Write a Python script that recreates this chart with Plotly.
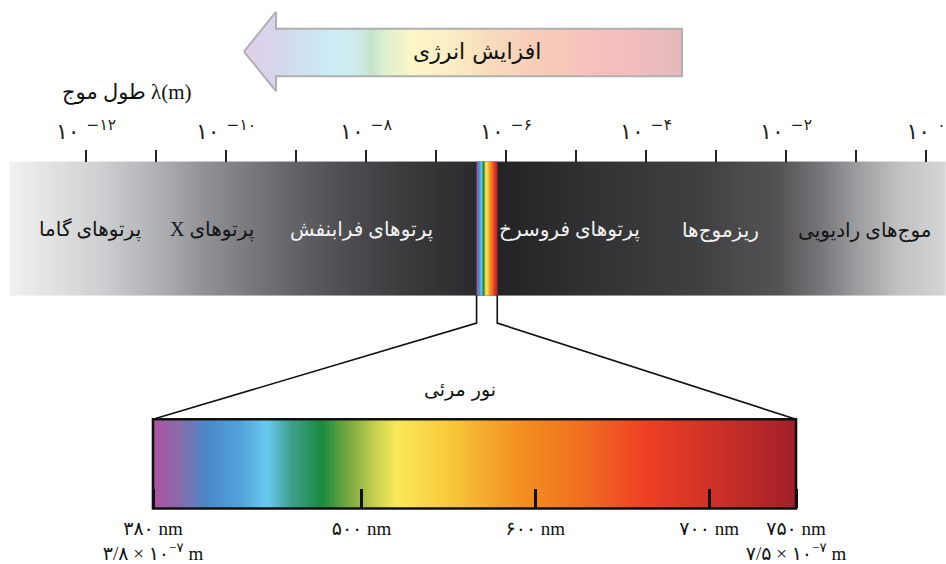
import numpy as np
import plotly.graph_objects as go

# ---------------- data ----------------
FA = str.maketrans("0123456789-", "۰۱۲۳۴۵۶۷۸۹−")

labelled_exponents = [-12, -10, -8, -6, -4, -2, 0]     # labelled decades of λ (m)
minor_exponents = [-11, -9, -7, -5, -3, -1]            # unlabelled decade ticks

band_names = ["پرتوهای گاما", "\u202bپرتوهای X\u202c", "پرتوهای فرابنفش",
              "پرتوهای فروسرخ", "ریزموج‌ها", "موج‌های رادیویی"]
band_center_log = [-11.94, -10.2, -8.07, -5.09, -2.94, -0.87]   # log10(λ / m)
band_text_dark = [True, True, False, False, False, True]

visible_range_nm = [380, 750]
visible_ticks_nm = [380, 500, 600, 700, 750]

title_energy = "افزایش انرژی"
axis_title = "طول موج λ(m)"
visible_title = "نور مرئی"

# ---------------- styles ----------------
W, H = 946, 564
PX_PER_DECADE = 70.0
LOG_MIN = -12 - 86 / PX_PER_DECADE
LOG_MAX = LOG_MIN + W / PX_PER_DECADE
PX_PER_NM = (796 - 153) / (visible_range_nm[1] - visible_range_nm[0])
NM_MIN = visible_range_nm[0] - 153 / PX_PER_NM
NM_MAX = NM_MIN + W / PX_PER_NM

BAND_TOP, BAND_BOT = 163, 298
BAR_TOP, BAR_BOT = 423, 513
CONNECT_Y = 326

band_gradient = [(-13.09, "#f1f1f2"), (-11.8, "#cfd0d2"), (-10.8, "#a8a9ac"),
                 (-10.37, "#949498"), (-9.66, "#7a7a7e"), (-8.94, "#606064"),
                 (-8.23, "#4c4c50"), (-7.51, "#3c3c3f"), (-6.66, "#2f2e31"),
                 (-6.09, "#232225"), (-4.66, "#333335"), (-3.23, "#404042"),
                 (-2.09, "#545456"), (-1.51, "#76767a"), (-0.94, "#a0a0a3"),
                 (-0.37, "#c2c2c4"), (LOG_MAX, "#d6d6d8")]
spectrum_gradient = [(380, "#ad539f"), (395, "#8a6aaa"), (411, "#4a88c8"),
                     (430, "#52a2da"), (446, "#68c9f0"), (459, "#3fa08e"),
                     (477, "#1a8a42"), (493, "#7aaa40"), (508, "#c8d050"),
                     (520, "#f8e85a"), (545, "#f8d040"), (568, "#f5b030"),
                     (591, "#f39020"), (626, "#f07020"), (663, "#ee4025"),
                     (706, "#cc3028"), (750, "#a11f2a")]
arrow_gradient = [(0.0, "#e2d0e8"), (0.06, "#d8d4ec"), (0.13, "#cfe0f2"),
                  (0.2, "#cdeaf6"), (0.25, "#d0ecf0"), (0.29, "#c4e4cc"),
                  (0.32, "#dcefd0"), (0.38, "#fbf6c8"), (0.47, "#fbeec4"),
                  (0.56, "#f8dcbc"), (0.67, "#f7ccb8"), (0.79, "#f5c2bc"),
                  (0.9, "#efbdbd"), (1.0, "#e6b8bc")]

FA_FONT = "DejaVu Sans"
MIX_FONT = "Liberation Serif, DejaVu Sans"


def to_fa(v):
    return str(v).translate(FA)


def norm_scale(stops):
    lo, hi = stops[0][0], stops[-1][0]
    return [[(p - lo) / (hi - lo), c] for p, c in stops]


def log_to_nm_axis(v):
    frac = (v - LOG_MIN) / (LOG_MAX - LOG_MIN)
    return NM_MIN + frac * (NM_MAX - NM_MIN)


# tick labels
top_ticktext = ["۱۰ <sup>" + to_fa(e) + "</sup>" for e in labelled_exponents]
vis_ticktext = []
for v in visible_ticks_nm:
    t = to_fa(v) + " nm"
    if v in visible_range_nm:
        mant = f"{v / 100:.1f}".replace(".", "/")
        t += "<br>" + to_fa(mant) + " × ۱۰<sup>" + to_fa(-7) + "</sup> m"
    vis_ticktext.append(t)

fig = go.Figure()

# --- grey band of the whole spectrum (log axis)
band_x = np.linspace(band_gradient[0][0], LOG_MAX, 401)
band_c = (band_x[:-1] + band_x[1:]) / 2
fig.add_trace(go.Heatmap(x=band_x, y=[BAND_TOP, BAND_BOT], z=[band_c],
                         colorscale=norm_scale(band_gradient),
                         zmin=band_gradient[0][0], zmax=band_gradient[-1][0],
                         showscale=False, hoverinfo="skip", xaxis="x", yaxis="y"))

# --- narrow visible strip inside the band
lv = np.log10(np.array(visible_range_nm) * 1e-9)
strip_x = np.linspace(lv[0], lv[1], 60)
strip_c = 10 ** ((strip_x[:-1] + strip_x[1:]) / 2) * 1e9
fig.add_trace(go.Heatmap(x=strip_x, y=[BAND_TOP, BAND_BOT], z=[strip_c],
                         colorscale=norm_scale(spectrum_gradient),
                         zmin=visible_range_nm[0], zmax=visible_range_nm[1],
                         showscale=False, hoverinfo="skip", xaxis="x", yaxis="y"))

# --- visible spectrum bar (nm axis)
bar_x = np.linspace(visible_range_nm[0], visible_range_nm[1], 371)
bar_c = (bar_x[:-1] + bar_x[1:]) / 2
fig.add_trace(go.Heatmap(x=bar_x, y=[BAR_TOP, BAR_BOT], z=[bar_c],
                         colorscale=norm_scale(spectrum_gradient),
                         zmin=visible_range_nm[0], zmax=visible_range_nm[1],
                         showscale=False, hoverinfo="skip", xaxis="x2", yaxis="y"))

# --- connector lines from strip to bar
for lvv, nm in zip(lv, visible_range_nm):
    sx = log_to_nm_axis(lvv)
    fig.add_trace(go.Scatter(x=[sx, sx, nm], y=[BAND_BOT, CONNECT_Y, BAR_TOP],
                             mode="lines", line=dict(color="#111111", width=1.6),
                             hoverinfo="skip", showlegend=False, xaxis="x2", yaxis="y"))

# --- energy arrow (decorative)
ax = [244, 276, 276, 682, 682, 276, 276, 244]
ay = [52, 12, 29, 29, 77, 77, 92, 52]
fig.add_trace(go.Scatter(x=ax, y=ay, mode="lines", fill="toself",
                         fillgradient=dict(type="horizontal",
                                           colorscale=[[p, c] for p, c in arrow_gradient]),
                         line=dict(color="#b0b0b0", width=2),
                         hoverinfo="skip", showlegend=False, xaxis="x3", yaxis="y"))

# --- bar border
fig.add_shape(type="rect", xref="x2", yref="y", x0=visible_range_nm[0], x1=visible_range_nm[1],
              y0=BAR_TOP, y1=BAR_BOT, line=dict(color="#111111", width=2.6), layer="above")

# --- band labels
for name, c, dark in zip(band_names, band_center_log, band_text_dark):
    fig.add_annotation(x=c, y=(BAND_TOP + BAND_BOT) / 2 + 2, xref="x", yref="y", text=name,
                       showarrow=False, font=dict(family=MIX_FONT, size=20,
                                                  color="#151515" if dark else "#f2f2f2"))

fig.add_annotation(x=477, y=52, xref="x3", yref="y", text=title_energy, showarrow=False,
                   font=dict(family=FA_FONT, size=22, color="#111111"))
fig.add_annotation(x=60, y=93, xref="x3", yref="y", text=axis_title, showarrow=False,
                   xanchor="left", font=dict(family=MIX_FONT, size=21, color="#111111"))
fig.add_annotation(x=460, y=393, xref="x3", yref="y", text=visible_title, showarrow=False,
                   font=dict(family=FA_FONT, size=19, color="#111111"))

fig.update_layout(
    width=W, height=H, autosize=False,
    margin=dict(l=0, r=0, t=0, b=0, pad=0),
    paper_bgcolor="white", plot_bgcolor="white",
    showlegend=False,
    yaxis=dict(range=[H, 0], domain=[0, 1], visible=False, fixedrange=True),
    xaxis=dict(range=[LOG_MIN, LOG_MAX], domain=[0, 1], anchor="free",
               position=1 - BAND_TOP / H, side="top",
               tickmode="array", tickvals=labelled_exponents, ticktext=top_ticktext,
               ticks="outside", ticklen=12, tickwidth=1.5, tickcolor="#222222",
               minor=dict(tickmode="array", tickvals=minor_exponents, ticks="outside",
                          ticklen=12, tickwidth=1.5, tickcolor="#222222", showgrid=False),
               ticklabelstandoff=2,
               tickfont=dict(family=FA_FONT, size=22, color="#222222"),
               showgrid=False, zeroline=False, showline=False, fixedrange=True),
    xaxis2=dict(range=[NM_MIN, NM_MAX], domain=[0, 1], overlaying="x", anchor="free",
                position=1 - BAR_BOT / H, side="bottom",
                tickmode="array", tickvals=visible_ticks_nm, ticktext=vis_ticktext,
                ticks="inside", ticklen=19, tickwidth=2.5, tickcolor="#111111",
                ticklabelstandoff=7,
                tickfont=dict(family=MIX_FONT, size=19, color="#111111"),
                showgrid=False, zeroline=False, showline=False, fixedrange=True),
    xaxis3=dict(range=[0, W], domain=[0, 1], overlaying="x", anchor="y",
                visible=False, fixedrange=True),
)

fig.write_html("out.html", config={"displayModeBar": False},
               post_script="document.body.style.margin='0';")
